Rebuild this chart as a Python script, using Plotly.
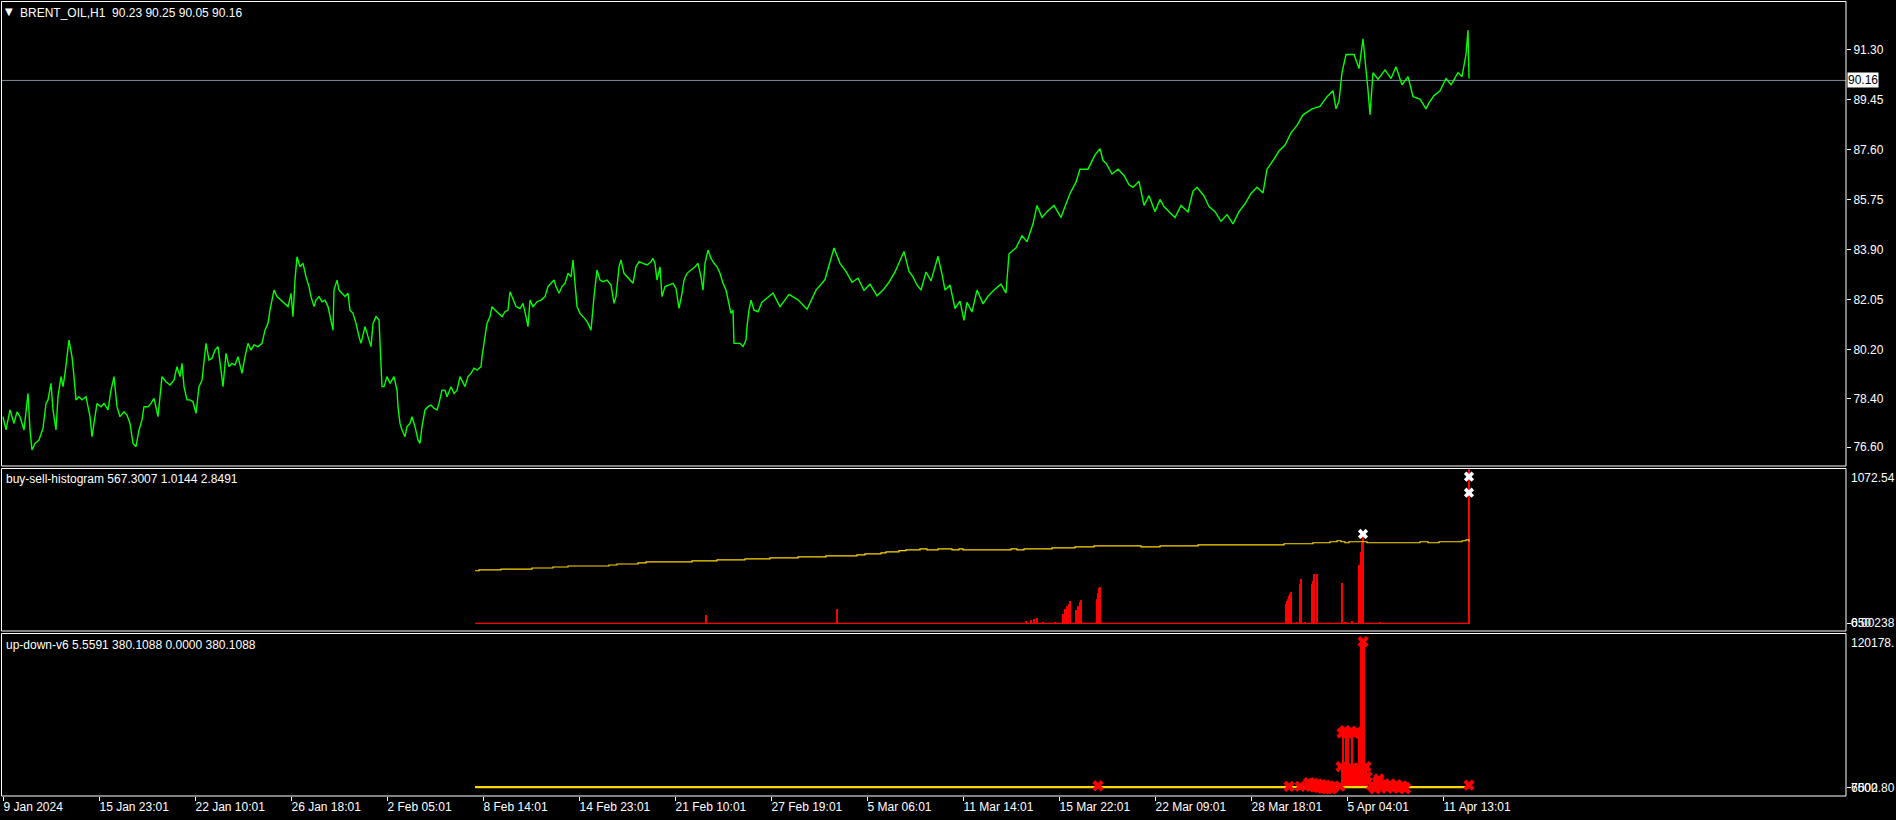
import plotly.graph_objects as go

# ---------------- data ----------------
tick_bars = [0, 96, 192, 288, 384, 480, 576, 672, 768, 864, 960, 1056, 1152, 1248, 1344, 1440]
tick_labels = ["9 Jan 2024", "15 Jan 23:01", "22 Jan 10:01", "26 Jan 18:01", "2 Feb 05:01",
               "8 Feb 14:01", "14 Feb 23:01", "21 Feb 10:01", "27 Feb 19:01", "5 Mar 06:01",
               "11 Mar 14:01", "15 Mar 22:01", "22 Mar 09:01", "28 Mar 18:01", "5 Apr 04:01",
               "11 Apr 13:01"]

price_ticks = [91.30, 89.45, 87.60, 85.75, 83.90, 82.05, 80.20, 78.40, 76.60]
last_price = 90.16

price_bar = [0, 3, 7, 11, 14, 17, 21, 25, 27, 29, 32, 36, 40, 43, 45, 48, 50, 53, 55, 58, 60, 62, 66, 69, 71,
             73, 76, 79, 83, 87, 89, 92, 94, 98, 101, 105, 108, 111, 114, 117, 121, 124, 127, 130, 133, 136,
             139, 141, 145, 148, 151, 155, 157, 159, 163, 167, 171, 174, 177, 179, 181, 184, 187, 190, 193,
             196, 199, 201, 203, 206, 209, 212, 215, 218, 220, 223, 226, 229, 232, 235, 239, 242, 245, 248,
             251, 255, 259, 262, 265, 267, 271, 274, 278, 282, 285, 288, 290, 292, 294, 297, 300, 303, 306,
             308, 311, 313, 316, 319, 322, 325, 328, 330, 331, 334, 336, 339, 342, 345, 347, 350, 353, 356,
             358, 362, 365, 368, 370, 373, 376, 378, 379, 381, 384, 387, 391, 394, 395, 397, 399, 402, 404,
             407, 409, 412, 415, 417, 419, 422, 425, 428, 431, 434, 436, 439, 442, 444, 448, 451, 454, 457,
             459, 462, 465, 468, 471, 474, 478, 479, 482, 484, 487, 489, 492, 496, 499, 502, 505, 507, 510,
             513, 517, 520, 523, 525, 527, 530, 534, 538, 542, 545, 548, 551, 553, 556, 559, 562, 565, 568,
             570, 572, 574, 577, 580, 583, 585, 588, 591, 594, 597, 600, 604, 608, 611, 613, 616, 618, 621,
             624, 627, 630, 633, 636, 640, 644, 648, 650, 652, 654, 657, 659, 662, 666, 670, 673, 676, 679,
             681, 684, 688, 692, 695, 698, 700, 702, 705, 708, 711, 714, 717, 720, 723, 726, 728, 730, 731,
             734, 737, 740, 743, 744, 746, 748, 751, 755,
             759, 770, 777, 786, 795, 804, 813, 822, 831, 837, 843, 849, 855, 861, 867, 874, 880, 886, 892,
             901, 906, 910, 914, 918, 923, 928, 935, 939, 942, 947, 952, 957, 961, 964, 969, 974, 980, 985,
             991, 998, 1003, 1006, 1013, 1019, 1024, 1030, 1034, 1039, 1044, 1051, 1058, 1062, 1067, 1073,
             1077, 1085, 1092, 1097, 1100, 1103, 1109, 1115, 1121, 1126, 1130, 1136, 1141, 1146, 1152, 1157,
             1161, 1166, 1172, 1178, 1185, 1190, 1194, 1201, 1206, 1212, 1218, 1224, 1230, 1236, 1242, 1248,
             1254, 1260, 1264, 1270, 1276, 1282, 1288, 1294, 1300, 1309, 1317, 1324, 1330, 1333, 1336, 1339,
             1343, 1351, 1356, 1360, 1363, 1365, 1367, 1370, 1375, 1382, 1388, 1393, 1399, 1405, 1410, 1417,
             1423, 1426, 1431, 1437, 1443, 1448, 1455, 1459, 1463, 1465, 1466]
price_close = [77.73, 77.24, 77.98, 77.48, 77.91, 77.73, 77.24, 78.59, 77.24, 76.50, 76.74, 76.87, 77.30, 78.22,
               78.35, 78.96, 77.98, 77.24, 78.47, 79.21, 78.84, 79.33, 80.56, 79.95, 79.21, 78.35, 78.47, 78.35,
               78.47, 77.73, 76.99, 77.73, 78.22, 78.10, 78.22, 77.98, 78.71, 79.21, 78.10, 77.73, 77.91, 77.79,
               77.48, 76.74, 76.62, 77.24, 77.61, 78.10, 78.10, 78.22, 78.41, 77.73, 78.47, 79.21, 79.02, 78.90,
               79.08, 79.58, 79.21, 79.70, 78.84, 78.35, 78.35, 78.28, 77.85, 78.84, 79.08, 79.70, 80.44, 79.82,
               79.89, 80.19, 80.32, 79.45, 78.84, 80.07, 79.58, 79.70, 79.64, 79.95, 79.33, 79.95, 80.44, 80.19,
               80.38, 80.32, 80.44, 80.93, 81.18, 81.67, 82.41, 82.17, 82.04, 81.92, 81.80, 82.29, 81.43, 82.78,
               83.64, 83.27, 83.40, 82.90, 82.54, 82.17, 81.80, 82.04, 82.17, 81.98, 82.04, 81.80, 81.30, 80.93,
               82.41, 82.78, 82.41, 82.29, 82.17, 82.29, 81.67, 81.55, 81.18, 80.69, 80.44, 81.06, 80.69, 80.32,
               81.18, 81.43, 81.30, 79.45, 78.84, 78.84, 79.21, 78.96, 79.21, 78.71, 78.10, 77.48, 77.24, 76.99,
               77.36, 77.48, 77.73, 77.36, 76.87, 76.74, 77.36, 77.98, 78.10, 78.16, 78.04, 77.98, 78.22, 78.71,
               78.71, 78.47, 78.84, 78.59, 78.71, 79.21, 79.08, 78.84, 79.21, 79.33, 79.52, 79.45, 79.58, 79.95,
               80.69, 81.18, 81.43, 81.80, 81.67, 81.55, 81.43, 81.61, 81.67, 82.35, 82.04, 81.80, 81.73, 81.92,
               81.43, 81.06, 82.04, 81.80, 81.98, 82.04, 82.17, 82.54, 82.66, 82.78, 82.54, 82.29, 82.54, 82.66,
               83.03, 82.90, 83.52, 82.66, 81.80, 81.55, 81.43, 81.30, 81.18, 80.93, 82.17, 83.15, 82.78, 82.72,
               82.78, 82.60, 81.92, 82.17, 83.27, 83.52, 83.03, 82.90, 82.78, 82.66, 83.27, 83.46, 83.40, 83.34,
               83.46, 83.58, 83.40, 82.78, 83.27, 82.17, 82.54, 82.60, 82.66, 82.47, 81.73, 82.29, 82.78, 83.03,
               83.15, 83.27, 83.40, 82.90, 82.41, 83.40, 83.89, 83.58, 83.40, 83.27, 83.03, 82.66, 82.41, 81.92,
               81.55, 81.67, 80.44, 80.44, 80.44, 80.32, 80.56, 81.06, 81.67, 82.04, 81.67, 81.61,
               81.96, 82.30, 81.80, 82.25, 82.05, 81.70, 82.41, 82.80, 83.97, 83.40, 83.10, 82.70, 82.85, 82.40,
               82.63, 82.20, 82.41, 82.70, 83.08, 83.84, 83.10, 82.90, 82.60, 82.41, 83.08, 82.75, 83.66, 83.00,
               82.41, 82.60, 81.73, 82.00, 81.29, 81.96, 81.60, 82.41, 81.90, 82.18, 82.41, 82.63, 82.30, 83.75,
               83.97, 84.42, 84.20, 84.86, 85.54, 85.10, 85.31, 85.54, 85.09, 85.50, 85.98, 86.40, 86.88, 86.88,
               87.41, 87.64, 87.20, 87.10, 86.70, 86.88, 86.65, 86.30, 86.21, 86.43, 85.54, 85.90, 85.31, 85.76,
               85.50, 85.31, 85.09, 85.54, 85.30, 86.07, 86.21, 85.89, 85.50, 85.31, 84.95, 85.20, 84.86, 85.31,
               85.60, 85.98, 86.21, 86.00, 86.88, 87.20, 87.55, 87.77, 88.22, 88.50, 88.89, 89.11, 89.20, 89.56,
               89.78, 89.11, 89.40, 90.45, 91.12, 91.12, 90.60, 91.70, 90.67, 89.80, 88.89, 90.45, 90.20, 90.55,
               90.23, 90.67, 90.00, 90.30, 89.56, 89.47, 89.11, 89.33, 89.60, 89.78, 90.23, 90.00, 90.45, 90.30,
               91.12, 92.02, 90.23, 90.16]

# buy-sell-histogram
bs_line_bar = [472, 476, 498, 529, 550, 565, 606, 614, 635, 643, 689, 714, 742, 767, 795, 823, 854, 862, 878,
               883, 896, 903, 917, 924, 935, 949, 956, 960, 1008, 1014, 1021, 1049, 1072, 1091, 1138, 1157,
               1195, 1281, 1310, 1327, 1334, 1338, 1342, 1346, 1364, 1417, 1425, 1436, 1459, 1463, 1466]
bs_line_val = [364, 370, 376, 383, 390, 397, 404, 411, 418, 425, 432, 439, 446, 453, 460, 467, 474, 481, 488,
               495, 504, 509, 516, 509, 516, 509, 516, 509, 516, 509, 516, 523, 530, 537, 530, 537,
               544, 551, 558, 565, 572, 565, 558, 565, 558, 565, 558, 565, 572, 579, 567.3]
bs_hist_bar = [703, 834, 1023, 1028, 1031, 1034, 1040, 1052, 1060, 1062, 1064, 1066, 1067, 1073, 1075, 1077,
               1078, 1094, 1095, 1096, 1097, 1283, 1284, 1285, 1286, 1287, 1288, 1294, 1297, 1298, 1302, 1309,
               1310, 1311, 1314, 1339, 1342, 1343, 1349, 1356, 1358, 1359, 1360, 1377, 1466]
bs_hist_val = [63, 105, 21, 28, 35, 42, 7, 7, 70, 105, 126, 140, 160, 98, 126, 154, 168, 175, 210, 245, 252,
               140, 160, 175, 190, 205, 217, 7, 273, 308, 7, 273, 300, 343, 343, 280, 14, 14, 21, 406, 497,
               560, 600, 7, 1072.54]
bs_mark_bar = [1360, 1466, 1466]
bs_mark_val = [619, 1016, 905]
bs_max = 1072.54

# up-down-v6
ud_line_bar = [472, 1466]
ud_line_val = [380.1088, 380.1088]
ud_hist_bar = [1339, 1340, 1341, 1342, 1343, 1344, 1345, 1346, 1347, 1348, 1349, 1350, 1351, 1352, 1353,
               1354, 1355, 1356, 1357, 1358, 1359, 1360, 1361, 1362, 1363, 1364]
ud_hist_val = [19000, 42600, 19000, 19500, 42600, 19500, 42600, 19500, 19000, 19000, 42600, 19000, 19000,
               19500, 19500, 19000, 19000, 42600, 19000, 115000, 115000, 115000, 115000, 19000, 17000, 9000]
ud_mark_bar = [1095, 1286, 1297, 1337, 1338, 1363, 1364, 1376, 1466, 1360, 1339, 1342, 1345, 1348, 1351,
               1354, 1357]
ud_mark_val = [1500, 1000, 1000, 1200, 16400, 16400, 8600, 6800, 2000, 113800, 42600, 44500, 42600, 44000,
               42600, 43500, 42600]
ud_blob_bar = [1306, 1308, 1310, 1312, 1314, 1316, 1318, 1320, 1322, 1324, 1326, 1328, 1330,
               1369, 1372, 1375, 1378, 1381, 1384, 1387, 1390, 1393, 1396, 1399, 1402]
ud_blob_val = [3500, 1500, 3000, 1000, 2500, 500, 2000, 0, 1500, -500, 1000, -500, 500,
               2000, -500, 4500, 1500, 2500, 0, 2500, 500, 2000, 0, 1000, -500]
ud_max = 120178

# ---------------- layout helpers ----------------
W, H = 1896, 820
PB = 796.0      # bottom of plot area (px)
PR = 1846.0     # right edge of plot area (px)


def py(y):
    return (PB - y) / PB


def pxx(x):
    return x / PR


FONT = "Liberation Sans, Arial, sans-serif"
FS = 12
RED = "#FF0000"
GOLD = "#FFD700"

fig = go.Figure()

# main price
fig.add_trace(go.Scatter(x=price_bar, y=price_close, mode="lines",
                         line=dict(color="#00FF00", width=1.4), yaxis="y", hoverinfo="skip"))

# buy-sell-histogram
fig.add_trace(go.Bar(x=bs_hist_bar, y=bs_hist_val, width=1.2, marker=dict(color=RED, line=dict(width=0)),
                     yaxis="y2", hoverinfo="skip"))
fig.add_trace(go.Scatter(x=[bs_line_bar[0], bs_line_bar[-1]], y=[0, 0], mode="lines",
                         line=dict(color=RED, width=1.2), yaxis="y2", hoverinfo="skip"))
fig.add_trace(go.Scatter(x=bs_line_bar, y=bs_line_val, mode="lines", line_shape="hv",
                         line=dict(color=GOLD, width=1.2), yaxis="y2", hoverinfo="skip"))
fig.add_trace(go.Scatter(x=bs_mark_bar, y=bs_mark_val, mode="markers",
                         marker=dict(symbol="x", size=9, color="white", line=dict(width=0)),
                         yaxis="y2", hoverinfo="skip"))

# up-down-v6
fig.add_trace(go.Scatter(x=ud_line_bar, y=ud_line_val, mode="lines",
                         line=dict(color=GOLD, width=2.2), yaxis="y3", hoverinfo="skip"))
fig.add_trace(go.Bar(x=ud_hist_bar, y=ud_hist_val, width=1.2, marker=dict(color=RED, line=dict(width=0)),
                     yaxis="y3", hoverinfo="skip"))
fig.add_trace(go.Scatter(x=ud_blob_bar, y=ud_blob_val, mode="markers",
                         marker=dict(symbol="x", size=11, color=RED, line=dict(width=0)),
                         yaxis="y3", hoverinfo="skip"))
fig.add_trace(go.Scatter(x=ud_mark_bar, y=ud_mark_val, mode="markers",
                         marker=dict(symbol="x", size=10, color=RED, line=dict(width=0)),
                         yaxis="y3", hoverinfo="skip"))

# y ranges from pixel geometry
k1 = 27.05
main_range = [87.60 - (466 - 149.7) / k1, 87.60 + 149.7 / k1]
k2 = (623.3 - 468.5) / bs_max
bs_range = [-(631 - 623.3) / k2, bs_max]
k3 = (787.7 - 633.5) / ud_max
ud_range = [-(796 - 787.7) / k3, ud_max]

axis_common = dict(showgrid=False, zeroline=False, showline=False, color="white",
                   tickfont=dict(family=FONT, size=FS, color="white"))

fig.update_layout(
    width=W, height=H,
    margin=dict(l=0, r=W - PR, t=0, b=H - PB),
    paper_bgcolor="black", plot_bgcolor="black",
    showlegend=False, barmode="overlay", bargap=0,
    xaxis=dict(range=[-3, PR - 3], anchor="y3", tickmode="array", tickvals=tick_bars,
               ticktext=tick_labels, ticks="outside", ticklen=4, tickcolor="white", tickwidth=1,
               ticklabelposition="outside right", **axis_common),
    yaxis=dict(domain=[py(466), 1.0], range=main_range, side="right", anchor="x",
               tickmode="array", tickvals=price_ticks, ticktext=[f"{v:.2f}" for v in price_ticks],
               ticks="outside", ticklen=4, tickcolor="white", **axis_common),
    yaxis2=dict(domain=[py(631), py(468.5)], range=bs_range, side="right", anchor="x",
                tickmode="array", tickvals=[0], showticklabels=False,
                ticks="outside", ticklen=4, tickcolor="white", **axis_common),
    yaxis3=dict(domain=[0, py(633.5)], range=ud_range, side="right", anchor="x",
                tickmode="array", tickvals=[0], showticklabels=False,
                ticks="outside", ticklen=4, tickcolor="white", **axis_common),
)

shapes = []
for top, bot in [(1.5, 466), (468.5, 631), (633.5, 796)]:
    shapes.append(dict(type="rect", xref="paper", yref="paper", x0=pxx(1.5), x1=1.0,
                       y0=py(bot), y1=py(top), line=dict(color="white", width=1), layer="above"))
shapes.append(dict(type="line", xref="paper", yref="y", x0=pxx(1.5), x1=1.0, y0=last_price, y1=last_price,
                   line=dict(color="#778899", width=1), layer="below"))
fig.update_layout(shapes=shapes)

ann = []


def text(x, y, s, color="white", size=FS, family=FONT):
    ann.append(dict(xref="paper", yref="paper", x=pxx(x), y=py(y), text=s, showarrow=False,
                    xanchor="left", yanchor="middle", borderpad=0,
                    font=dict(family=family, size=size, color=color)))


text(4, 12, "▼", size=10, family="DejaVu Sans")
text(19, 12.5, "BRENT_OIL,H1\u00a0\u00a090.23 90.25 90.05 90.16")
text(5, 479, "buy-sell-histogram 567.3007 1.0144 2.8491")
text(5, 645, "up-down-v6 5.5591 380.1088 0.0000 380.1088")

# right-scale texts of the indicator windows
text(1850, 478, "1072.54")
text(1850, 623, "650")
text(1850, 623, "0.00238")
text(1850, 643, "120178.")
text(1850, 787.5, "6500")
text(1850, 787.5, "7002.80")

# current price box
ann.append(dict(xref="paper", yref="y", x=1.0, y=last_price, text="90.16", showarrow=False,
                xanchor="left", yanchor="middle", xshift=1, bgcolor="white", borderpad=0,
                font=dict(family=FONT, size=FS, color="black")))
fig.update_layout(annotations=ann)

fig.write_html("out.html", config={"displayModeBar": False},
               post_script="document.body.style.margin='0';document.body.style.overflow='hidden';")
